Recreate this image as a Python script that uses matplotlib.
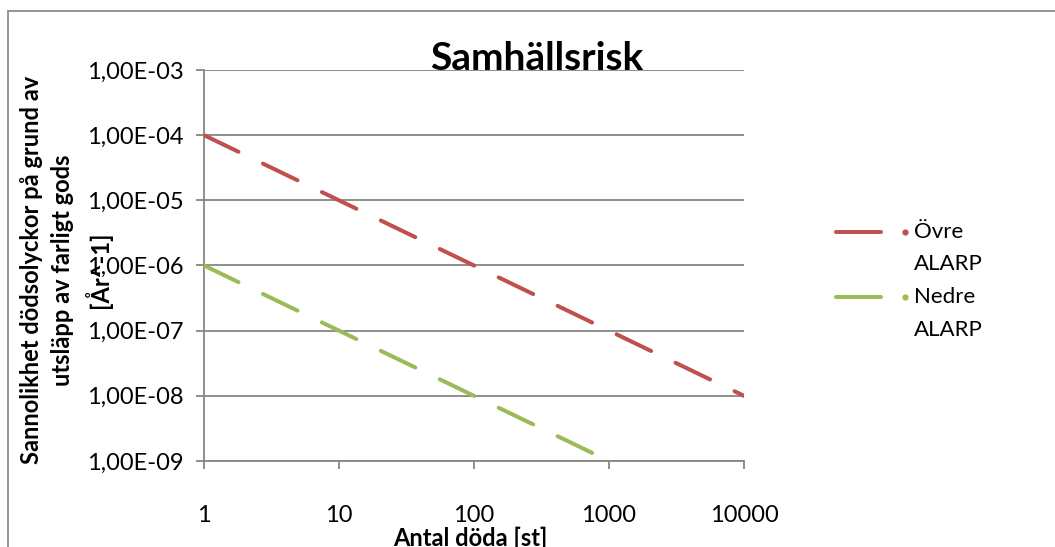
import matplotlib
matplotlib.use("Agg")
import matplotlib.pyplot as plt
from matplotlib.lines import Line2D
from matplotlib.patches import Rectangle
from matplotlib.ticker import FixedLocator, NullLocator

plt.rcParams['font.family'] = ['Lato', 'DejaVu Sans']

# Data
antal_doda = [1, 10, 100, 1000, 10000]
ovre_alarp = [1e-4, 1e-5, 1e-6, 1e-7, 1e-8]
nedre_alarp = [1e-6, 1e-7, 1e-8, 1e-9, 1e-10]
series_names = ["Övre ALARP", "Nedre ALARP"]
y_ticks = [1e-3, 1e-4, 1e-5, 1e-6, 1e-7, 1e-8, 1e-9]
y_tick_labels = ["1,00E-03", "1,00E-04", "1,00E-05", "1,00E-06", "1,00E-07", "1,00E-08", "1,00E-09"]
x_ticks = [1, 10, 100, 1000, 10000]
x_tick_labels = ["1", "10", "100", "1000", "10000"]

RED = "#C0504D"
GREEN = "#9BBB59"
GRID = "#868686"
colors = [RED, GREEN]

W, H = 1055, 547
fig = plt.figure(figsize=(W / 100, H / 100), dpi=100)
ax = fig.add_axes([204 / W, 1 - 461 / H, (744 - 204) / W, (461 - 70) / H])

# outer chart border (cropped at right/bottom)
fig.patches.append(Rectangle((8 / W, -0.1), 1.2, 1.1 - 10.5 / H, transform=fig.transFigure,
                             fill=False, edgecolor="#8C8C8C", linewidth=1.3, zorder=0))

lw = 2.9
for yv, col in zip([ovre_alarp, nedre_alarp], colors):
    ax.plot(antal_doda, yv, color=col, linewidth=lw, dashes=(9.5, 6.75),
            dash_capstyle='round', solid_capstyle='round', zorder=3)

ax.set_xscale('log')
ax.set_yscale('log')
ax.set_xlim(1, 10000)
ax.set_ylim(1e-9, 1e-3)

ax.yaxis.set_major_locator(FixedLocator(y_ticks))
ax.yaxis.set_minor_locator(NullLocator())
ax.set_yticklabels(y_tick_labels)
ax.xaxis.set_major_locator(FixedLocator(x_ticks))
ax.xaxis.set_minor_locator(NullLocator())
ax.set_xticklabels(x_tick_labels)

ax.grid(axis='y', color=GRID, linewidth=1.3)
ax.set_axisbelow(True)
for s in ['top', 'right']:
    ax.spines[s].set_visible(False)
for s in ['left', 'bottom']:
    ax.spines[s].set_color(GRID)
    ax.spines[s].set_linewidth(1.3)
ax.tick_params(axis='both', colors=GRID, length=5.8, width=1.3, labelcolor='black', labelsize=17)
ax.tick_params(axis='y', pad=9)
ax.tick_params(axis='x', pad=26)

fig.text(537 / W, 1 - 70 / H, "Samhällsrisk", ha='center', va='baseline',
         fontsize=28, fontweight='bold')
fig.text(470 / W, 1 - 546 / H, "Antal döda [st]", ha='center', va='baseline',
         fontsize=17, fontweight='bold')
fig.text(66 / W, 1 - 270 / H, "Sannolikhet dödsolyckor på grund av\nutsläpp av farligt gods\n[År^-1]",
         ha='center', va='center', rotation=90, fontsize=17, fontweight='bold',
         linespacing=1.42)

# legend (Excel style: line sample, small dot, two-line label)
entry_y = [232, 297]
for name, col, yy in zip(series_names, colors, entry_y):
    yf = 1 - yy / H
    fig.add_artist(Line2D([836 / W, 881 / W], [yf, yf], transform=fig.transFigure,
                          color=col, linewidth=lw, solid_capstyle='round'))
    fig.add_artist(Line2D([905 / W], [yf], transform=fig.transFigure, color=col,
                          linestyle='none', marker='o', markersize=4.5, markeredgewidth=0))
    first, second = name.split(" ", 1)
    fig.text(914 / W, yf, first, ha='left', va='center', fontsize=16)
    fig.text(914 / W, 1 - (yy + 32.5) / H, second, ha='left', va='center', fontsize=16)

fig.savefig("out.png", dpi=100)
